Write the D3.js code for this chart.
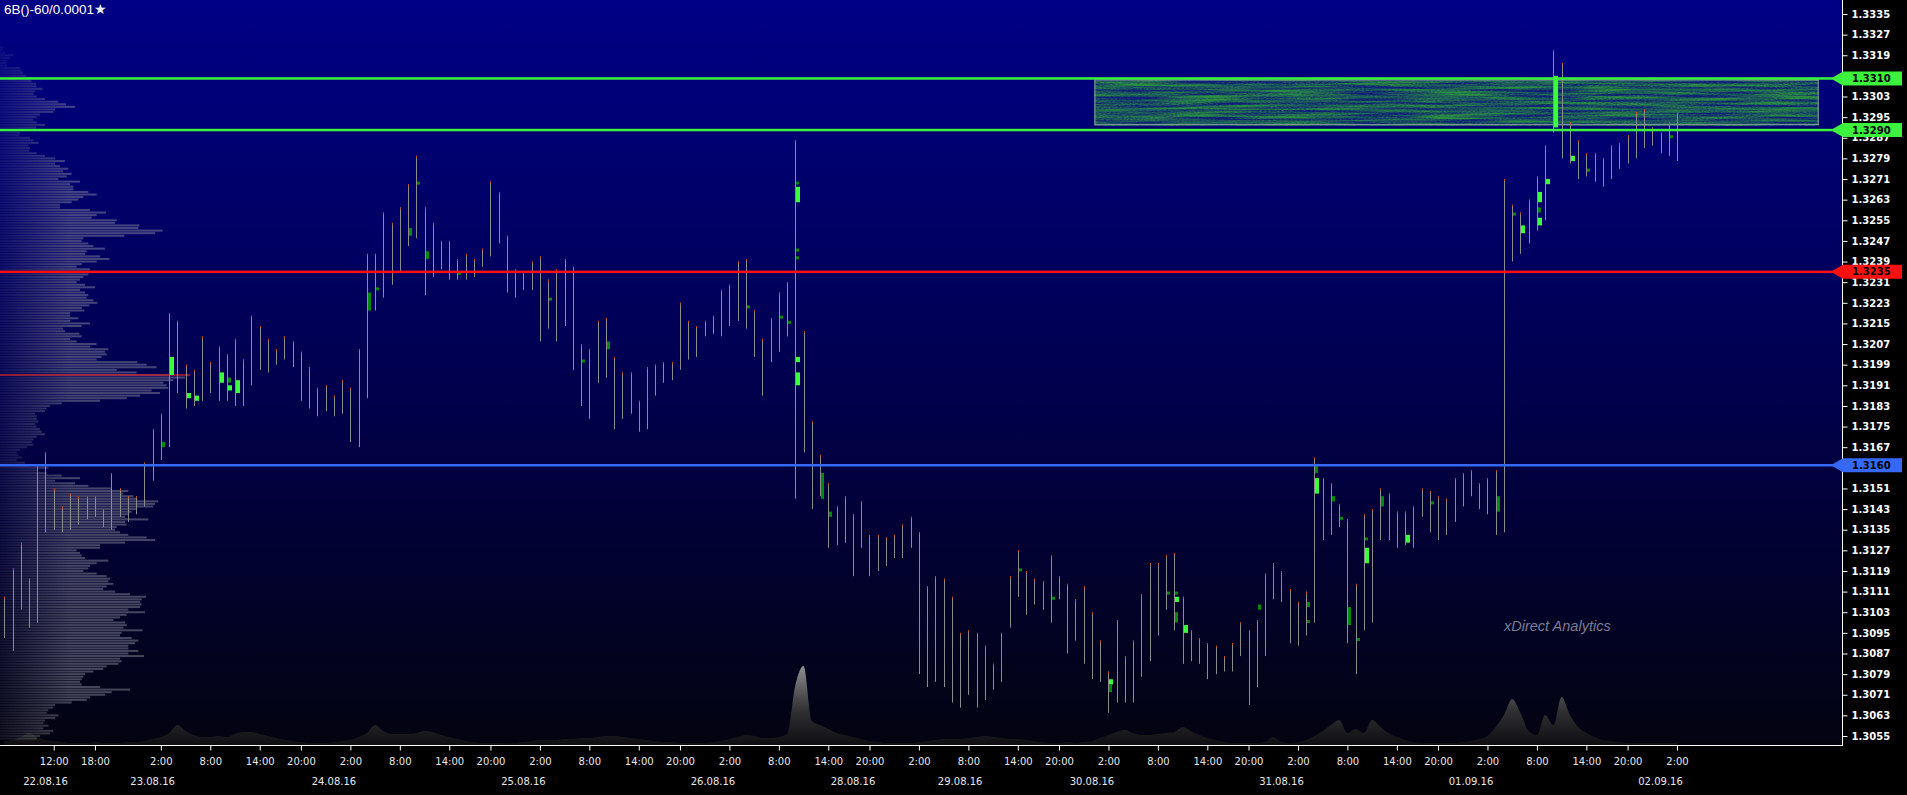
<!DOCTYPE html>
<html><head><meta charset="utf-8">
<script src="https://cdn.jsdelivr.net/npm/d3@7"></script>
<style>html,body{margin:0;padding:0;background:#000;overflow:hidden}</style>
</head><body>
<svg id="chart" width="1907" height="795"></svg>
<script>
// ---------------- DATA ----------------
const chartTitle = "6B()-60/0.0001";
const barHigh = [1.3109,1.3120,1.3130,1.3116,1.3160,1.3165,1.3151,1.3144,1.3149,1.3148,1.3148,1.3148,1.3143,1.3157,1.3151,1.3148,1.3148,1.3161,1.3174,1.3180,
1.3219,1.3216,1.3199,1.3197,1.3210,1.3200,1.3206,1.3203,1.3209,1.3201,1.3218,1.3214,1.3209,1.3205,1.3210,1.3208,1.3204,1.3198,1.3190,1.3191,
1.3187,1.3193,1.3190,1.3205,1.3242,1.3242,1.3258,1.3254,1.3260,1.3269,1.3280,1.3260,1.3254,1.3247,1.3247,1.3240,1.3242,1.3240,1.3244,1.3270,
1.3266,1.3249,1.3236,1.3235,1.3239,1.3241,1.3232,1.3236,1.3240,1.3237,1.3207,1.3205,1.3216,1.3217,1.3202,1.3196,1.3196,1.3185,1.3198,1.3199,
1.3200,1.3200,1.3223,1.3216,1.3214,1.3216,1.3218,1.3228,1.3230,1.3239,1.3240,1.3220,1.3209,1.3217,1.3227,1.3231,1.3286,1.3212,1.3177,1.3164,
1.3153,1.3144,1.3148,1.3141,1.3146,1.3133,1.3133,1.3132,1.3133,1.3137,1.3140,1.3134,1.3113,1.3117,1.3116,1.3109,1.3095,1.3096,1.3095,1.3090,
1.3083,1.3095,1.3117,1.3127,1.3119,1.3116,1.3115,1.3125,1.3117,1.3114,1.3108,1.3113,1.3103,1.3092,1.3080,1.3100,1.3086,1.3092,1.3110,1.3122,
1.3122,1.3125,1.3126,1.3109,1.3096,1.3093,1.3091,1.3090,1.3086,1.3091,1.3099,1.3096,1.3100,1.3118,1.3122,1.3119,1.3112,1.3107,1.3111,1.3163,
1.3155,1.3153,1.3145,1.3139,1.3114,1.3141,1.3143,1.3151,1.3149,1.3142,1.3142,1.3144,1.3151,1.3150,1.3148,1.3147,1.3155,1.3157,1.3158,1.3153,
1.3155,1.3158,1.3271,1.3261,1.3258,1.3263,1.3272,1.3284,1.3321,1.3316,1.3293,1.3286,1.3281,1.3281,1.3279,1.3284,1.3285,1.3288,1.3297,1.3298,
1.3291,1.3289,1.3293,1.3297];
const barLow = [1.3093,1.3088,1.3104,1.3097,1.3099,1.3134,1.3135,1.3134,1.3135,1.3137,1.3139,1.3140,1.3136,1.3135,1.3140,1.3138,1.3141,1.3144,1.3154,1.3162,
1.3167,1.3188,1.3182,1.3183,1.3185,1.3188,1.3185,1.3185,1.3183,1.3183,1.3191,1.3197,1.3196,1.3199,1.3201,1.3198,1.3185,1.3182,1.3179,1.3181,
1.3179,1.3180,1.3169,1.3167,1.3186,1.3220,1.3225,1.3230,1.3235,1.3245,1.3248,1.3226,1.3233,1.3236,1.3232,1.3232,1.3232,1.3233,1.3237,1.3241,
1.3246,1.3227,1.3225,1.3228,1.3228,1.3208,1.3213,1.3208,1.3214,1.3197,1.3183,1.3178,1.3192,1.3194,1.3174,1.3178,1.3180,1.3173,1.3174,1.3187,
1.3192,1.3193,1.3197,1.3201,1.3202,1.3210,1.3211,1.3210,1.3214,1.3216,1.3213,1.3202,1.3187,1.3200,1.3204,1.3210,1.3147,1.3165,1.3143,1.3148,
1.3128,1.3129,1.3130,1.3117,1.3128,1.3117,1.3119,1.3121,1.3124,1.3124,1.3128,1.3079,1.3074,1.3076,1.3074,1.3068,1.3066,1.3071,1.3066,1.3069,
1.3073,1.3076,1.3097,1.3109,1.3102,1.3106,1.3104,1.3099,1.3108,1.3087,1.3092,1.3083,1.3077,1.3076,1.3064,1.3068,1.3068,1.3068,1.3078,1.3084,
1.3094,1.3104,1.3096,1.3083,1.3084,1.3083,1.3077,1.3079,1.3080,1.3080,1.3086,1.3067,1.3074,1.3086,1.3108,1.3107,1.3091,1.3090,1.3094,1.3099,
1.3131,1.3133,1.3136,1.3091,1.3079,1.3096,1.3099,1.3131,1.3131,1.3128,1.3129,1.3128,1.3140,1.3134,1.3131,1.3133,1.3138,1.3144,1.3148,1.3143,
1.3141,1.3133,1.3134,1.3239,1.3242,1.3246,1.3251,1.3255,1.3289,1.3279,1.3277,1.3271,1.3272,1.3270,1.3268,1.3271,1.3275,1.3277,1.3279,1.3283,
1.3284,1.3281,1.3280,1.3278];
const barVolume = [4,5,8,12,8,5,4,3,2,2,2,3,2,2,2,3,3,4,6,8,
12,20,14,10,8,8,9,8,11,13,13,11,9,7,5,4,3,2,2,2,
3,4,5,8,12,20,14,11,11,11,12,14,13,10,8,6,4,3,2,2,
2,2,2,3,4,5,5,5,6,6,7,7,8,9,9,8,7,6,5,4,
3,3,2,2,2,2,3,4,6,8,10,9,7,7,8,11,60,79,24,20,
16,12,10,8,6,4,3,2,2,2,2,3,4,5,6,6,6,7,8,9,
8,7,6,6,5,4,3,2,2,3,2,3,4,7,10,13,15,12,10,10,
11,12,13,18,14,10,7,5,3,2,2,2,2,3,8,3,2,3,5,9,
14,20,25,12,16,12,25,18,12,8,5,3,2,2,2,2,2,3,4,6,
9,18,30,46,32,14,10,30,20,48,30,18,12,8,5,4,3,2,2,2,
2,2,2,2];
// volume profile: one value per 0.0001 from profileTopPrice downwards
const profileTopPrice = 1.3322;
const profileVolume = [10,8,15,40,30,20,18,22,60,65,70,78,90,95,108,110,128,105,100,110,
135,175,198,225,165,160,120,110,100,110,135,108,105,60,58,90,100,115,85,90,
88,110,135,165,195,165,180,205,190,215,200,175,240,210,220,220,265,290,250,235,
215,180,180,270,318,290,275,350,345,418,415,488,465,373,250,245,265,280,315,260,
255,300,328,290,245,230,270,270,265,250,240,230,255,285,240,255,265,260,280,292,
268,245,253,210,210,235,210,270,245,190,195,238,245,210,230,290,270,325,315,320,
305,290,412,440,470,350,410,505,555,520,490,500,505,455,480,420,380,300,185,150,
140,135,105,110,110,115,105,110,120,125,135,110,100,95,100,80,60,50,55,65,
50,75,80,145,110,140,185,240,165,225,265,335,385,370,400,410,475,465,460,410,
395,385,375,445,375,380,350,345,360,385,440,465,375,300,300,230,240,245,255,325,
290,270,265,250,290,320,330,325,340,320,310,345,390,438,425,420,425,420,385,435,
380,360,340,375,380,370,428,365,360,395,415,405,385,385,415,385,432,360,365,355,
320,310,280,255,250,245,240,245,300,390,335,315,270,260,215,165,160,145,140,175,
165,135,130,145,130,160,150,120,110];
const pocPrice = 1.3195;
// footprint cluster markers: bar, high, low, bright(1)/dark(0)
const markerBar    = [19,20,22,23,26,27,27,28,44,45,49,50,51,55,66,70,73,90,94,95,96,96,96,96,96,96,99,100,123,127,134,134,141,142,142,142,143,152,158,158,159,159,161,162,163,164,165,165,167,170,173,181,183,184,186,186,186,187,188,190,192,202];
const markerHigh   = [1.3169,1.3202,1.3188,1.3187,1.3196,1.3194,1.3191,1.3193,1.3227,1.3229,1.3252,1.3270,1.3243,1.3235,1.3225,1.3201,1.3208,1.3222,1.3218,1.3216,1.3270,1.3268,1.3244,1.3241,1.3202,1.3196,1.3157,1.3142,1.3120,1.3109,1.3077,1.3075,1.3111,1.3111,1.3109,1.3103,1.3098,1.3106,1.3107,1.3100,1.3160,1.3155,1.3148,1.3140,1.3105,1.3093,1.3132,1.3128,1.3148,1.3133,1.3146,1.3148,1.3258,1.3253,1.3266,1.3260,1.3256,1.3271,1.3311,1.3280,1.3275,1.3288];
const markerLow    = [1.3167,1.3195,1.3186,1.3185,1.3192,1.3192,1.3189,1.3188,1.3220,1.3228,1.3249,1.3269,1.3240,1.3234,1.3224,1.3200,1.3205,1.3221,1.3217,1.3215,1.3269,1.3262,1.3243,1.3240,1.3200,1.3191,1.3147,1.3140,1.3119,1.3108,1.3075,1.3072,1.3110,1.3110,1.3107,1.3099,1.3095,1.3104,1.3105,1.3099,1.3157,1.3149,1.3146,1.3139,1.3098,1.3092,1.3131,1.3122,1.3144,1.3130,1.3145,1.3142,1.3257,1.3250,1.3262,1.3258,1.3253,1.3269,1.3291,1.3278,1.3274,1.3287];
const markerBright = [0,1,1,1,1,0,1,1,0,0,0,0,0,0,0,0,0,0,0,0,0,1,0,0,1,1,0,0,0,0,1,0,0,0,1,0,1,0,0,0,0,1,0,0,0,0,0,1,0,1,0,0,0,1,1,0,1,1,1,1,0,0];
// horizontal levels
const levelPrices = [1.3310, 1.3290, 1.3235, 1.3160];
const levelLabels = ["1.3310", "1.3290", "1.3235", "1.3160"];
const levelColors = ["#3cf23c", "#3cf23c", "#ff1010", "#3468f5"];
// zone (bar range and price range)
const zoneBars = [132.3, 220.2];
const zonePrices = [1.33096, 1.32919];
// axes
const priceTicks = [1.3055,1.3063,1.3071,1.3079,1.3087,1.3095,1.3103,1.3111,1.3119,1.3127,1.3135,1.3143,1.3151,1.3159,1.3167,1.3175,1.3183,1.3191,1.3199,1.3207,1.3215,1.3223,1.3231,1.3239,1.3247,1.3255,1.3263,1.3271,1.3279,1.3287,1.3295,1.3303,1.3311,1.3319,1.3327,1.3335];
const timeTickLabels = ["12:00","18:00","2:00","8:00","14:00","20:00","2:00","8:00","14:00","20:00","2:00","8:00","14:00","20:00","2:00","8:00","14:00","20:00","2:00","8:00","14:00","20:00","2:00","8:00","14:00","20:00","2:00","8:00","14:00","20:00","2:00","8:00","14:00","20:00","2:00"];
const timeTickBars = [6,11,19,25,31,36,42,48,54,59,65,71,77,82,88,94,100,105,111,117,123,128,134,140,146,151,157,163,169,174,180,186,192,197,203];
const dateLabels = ["22.08.16","23.08.16","24.08.16","25.08.16","26.08.16","28.08.16","29.08.16","30.08.16","31.08.16","01.09.16","02.09.16"];
const dateBars = [5,18,40,63,86,103,116,132,155,178,201];
const watermark = "xDirect Analytics";

// ---------------- LAYOUT ----------------
const W = 1907, H = 795;
const plotRight = 1843, plotBottom = 745;
const svg = d3.select("#chart");
const x = d3.scaleLinear().domain([0, 203]).range([4.3, 1677]);
const y = d3.scaleLinear().domain([1.3055, 1.3335]).range([736, 14]);
const yVol = d3.scaleLinear().domain([0, 80]).range([plotBottom, 665]);
const xProf = d3.scaleLinear().domain([0, 555]).range([0, 185]);
const FONT = "'DejaVu Sans', Verdana, sans-serif";

const defs = svg.append("defs");
const bg = defs.append("linearGradient").attr("id","bgGrad").attr("x1",0).attr("x2",0).attr("y1",0).attr("y2",1);
bg.append("stop").attr("offset","0%").attr("stop-color","#000086");
bg.append("stop").attr("offset","55%").attr("stop-color","#00004a");
bg.append("stop").attr("offset","100%").attr("stop-color","#030310");

const pg = defs.append("linearGradient").attr("id","profGrad").attr("gradientUnits","userSpaceOnUse")
  .attr("x1",0).attr("x2",70).attr("y1",0).attr("y2",0);
pg.append("stop").attr("offset","0%").attr("stop-color","#9494a4").attr("stop-opacity",0.1);
pg.append("stop").attr("offset","100%").attr("stop-color","#9494a4").attr("stop-opacity",0.46);

const vg = defs.append("linearGradient").attr("id","volGrad").attr("gradientUnits","userSpaceOnUse")
  .attr("x1",0).attr("x2",0).attr("y1",665).attr("y2",plotBottom);
vg.append("stop").attr("offset","0%").attr("stop-color","#9c9c9c").attr("stop-opacity",0.95);
vg.append("stop").attr("offset","55%").attr("stop-color","#3c3c3c").attr("stop-opacity",0.85);
vg.append("stop").attr("offset","100%").attr("stop-color","#141414").attr("stop-opacity",0.7);

const f = defs.append("filter").attr("id","zoneNoise").attr("x",0).attr("y",0).attr("width",1).attr("height",1)
  .attr("color-interpolation-filters","sRGB");
f.append("feTurbulence").attr("type","fractalNoise").attr("baseFrequency","0.012 0.38").attr("numOctaves",3).attr("seed",7).attr("result","n1");
f.append("feTurbulence").attr("type","fractalNoise").attr("baseFrequency","0.45 0.9").attr("numOctaves",1).attr("seed",3).attr("result","n2");
f.append("feComposite").attr("in","n1").attr("in2","n2").attr("operator","arithmetic")
  .attr("k1",0).attr("k2",0.72).attr("k3",0.28).attr("k4",0).attr("result","n");
const ct = f.append("feComponentTransfer").attr("in","n").attr("result","c");
ct.append("feFuncR").attr("type","linear").attr("slope",2.6).attr("intercept",-0.8);
ct.append("feFuncA").attr("type","linear").attr("slope",0).attr("intercept",1);
f.append("feColorMatrix").attr("in","c").attr("type","matrix")
  .attr("values","0.12 0 0 0 0.05  0.44 0 0 0 0.12  -0.22 0 0 0 0.47  0 0 0 0 1");

// background
svg.append("rect").attr("width",W).attr("height",H).attr("fill","#000");
svg.append("rect").attr("x",0).attr("y",0).attr("width",plotRight).attr("height",plotBottom).attr("fill","url(#bgGrad)");

// volume area at bottom
const area = d3.area().x((d,i)=>x(i)).y0(plotBottom).y1(d=>yVol(d)).curve(d3.curveMonotoneX);
svg.append("path").datum(barVolume).attr("d",area).attr("fill","url(#volGrad)");

// volume profile
svg.append("g").selectAll("rect").data(profileVolume).join("rect")
  .attr("x",0)
  .attr("y",(d,k)=>y(profileTopPrice - k*0.0001) - 1)
  .attr("width",d=>xProf(d))
  .attr("height",2)
  .attr("fill","url(#profGrad)");
svg.append("rect").attr("x",0).attr("y",y(pocPrice)-1).attr("width",190).attr("height",2)
  .attr("fill","#c02030").attr("opacity",0.7);

// zone
const zx0 = x(zoneBars[0]), zx1 = x(zoneBars[1]);
svg.append("rect").attr("x",zx0).attr("y",y(zonePrices[0])).attr("width",zx1-zx0)
  .attr("height",y(zonePrices[1])-y(zonePrices[0])).attr("filter","url(#zoneNoise)").attr("fill","#000");
svg.append("rect").attr("x",zx0+0.5).attr("y",y(zonePrices[0])+0.5).attr("width",zx1-zx0-1)
  .attr("height",y(zonePrices[1])-y(zonePrices[0])-1).attr("fill","none").attr("stroke","#8a98a8").attr("stroke-width",1);

// price bars
const bars = svg.append("g");
bars.selectAll("rect.b").data(barHigh).join("rect").attr("class","b")
  .attr("x",(d,i)=>Math.round(x(i)))
  .attr("y",(d,i)=>y(d))
  .attr("width",1)
  .attr("height",(d,i)=>Math.max(1,y(barLow[i])-y(d)))
  .attr("fill","#8c8c8c");
bars.selectAll("rect.t").data(barHigh).join("rect").attr("class","t")
  .attr("x",(d,i)=>Math.round(x(i)))
  .attr("y",d=>y(d))
  .attr("width",1).attr("height",2)
  .attr("fill","#c8521e");

// footprint markers
svg.append("g").selectAll("rect").data(markerBar).join("rect")
  .attr("x",(b,i)=>Math.round(x(b))+1)
  .attr("y",(b,i)=>y(markerHigh[i]))
  .attr("width",(b,i)=>markerBright[i]?4:3)
  .attr("height",(b,i)=>Math.max(3,y(markerLow[i])-y(markerHigh[i])))
  .attr("fill",(b,i)=>markerBright[i]?"#3cff3c":"#008a10");

// horizontal levels
const lines = svg.append("g");
levelPrices.forEach((p,i)=>{
  const yy = y(p);
  lines.append("rect").attr("x",0).attr("y",yy-1.25).attr("width",1834).attr("height",2.5).attr("fill",levelColors[i]);
});

// axes lines
svg.append("line").attr("x1",0).attr("x2",plotRight).attr("y1",plotBottom+0.5).attr("y2",plotBottom+0.5).attr("stroke","#fff");
svg.append("line").attr("x1",plotRight-0.5).attr("x2",plotRight-0.5).attr("y1",0).attr("y2",plotBottom+1).attr("stroke","#fff");

// y axis
const yAxis = d3.axisRight(y).tickValues(priceTicks).tickSize(5).tickFormat(d3.format(".4f"));
const ga = svg.append("g").attr("transform",`translate(${plotRight-0.5},0)`).call(yAxis);
ga.select(".domain").remove();
ga.selectAll(".tick line").attr("stroke","#fff");
ga.selectAll(".tick text").attr("x",9).attr("fill","#fff")
  .style("font-family",FONT).style("font-size","10px").style("font-weight","bold");

// level labels on axis (drawn over the tick labels)
const lv = svg.append("g");
levelPrices.forEach((p,i)=>{
  const yy = y(p);
  lv.append("path").attr("d",`M1833,${yy-1.25} L1843,${yy-7} L1902,${yy-7} L1902,${yy+7} L1843,${yy+7} L1833,${yy+1.25} Z`)
    .attr("fill",levelColors[i]);
  lv.append("text").attr("x",1852).attr("y",yy).attr("dy","0.36em").text(levelLabels[i])
    .attr("fill","#000").style("font-family",FONT).style("font-size","10px").style("font-weight","bold");
});

// x axis
const xAxis = d3.axisBottom(x).tickValues(timeTickBars).tickSize(5).tickFormat((d,i)=>timeTickLabels[i]);
const gx = svg.append("g").attr("transform",`translate(0,${plotBottom+0.5})`).call(xAxis);
gx.select(".domain").remove();
gx.selectAll(".tick line").attr("stroke","#fff");
gx.selectAll(".tick text").attr("y",12).attr("fill","#e8e8e8")
  .style("font-family",FONT).style("font-size","10px");
svg.append("g").selectAll("text").data(dateLabels).join("text")
  .attr("x",(d,i)=>x(dateBars[i])).attr("y",785).attr("text-anchor","middle").text(d=>d)
  .attr("fill","#e8e8e8").style("font-family",FONT).style("font-size","10px");

// watermark
svg.append("text").attr("x",1504).attr("y",631).text(watermark)
  .attr("fill","#7c7c94").style("font-family","'Liberation Sans', Arial, sans-serif").style("font-size","14.5px").style("font-style","italic");

// title
const t = svg.append("text").attr("x",4).attr("y",14).attr("fill","#fff")
  .style("font-family","'Liberation Sans', Arial, sans-serif").style("font-size","13.5px");
t.append("tspan").text(chartTitle);
t.append("tspan").text("★").style("font-family","'DejaVu Sans', sans-serif").style("font-size","14px").attr("fill","#ececf4");
</script>
</body></html>
